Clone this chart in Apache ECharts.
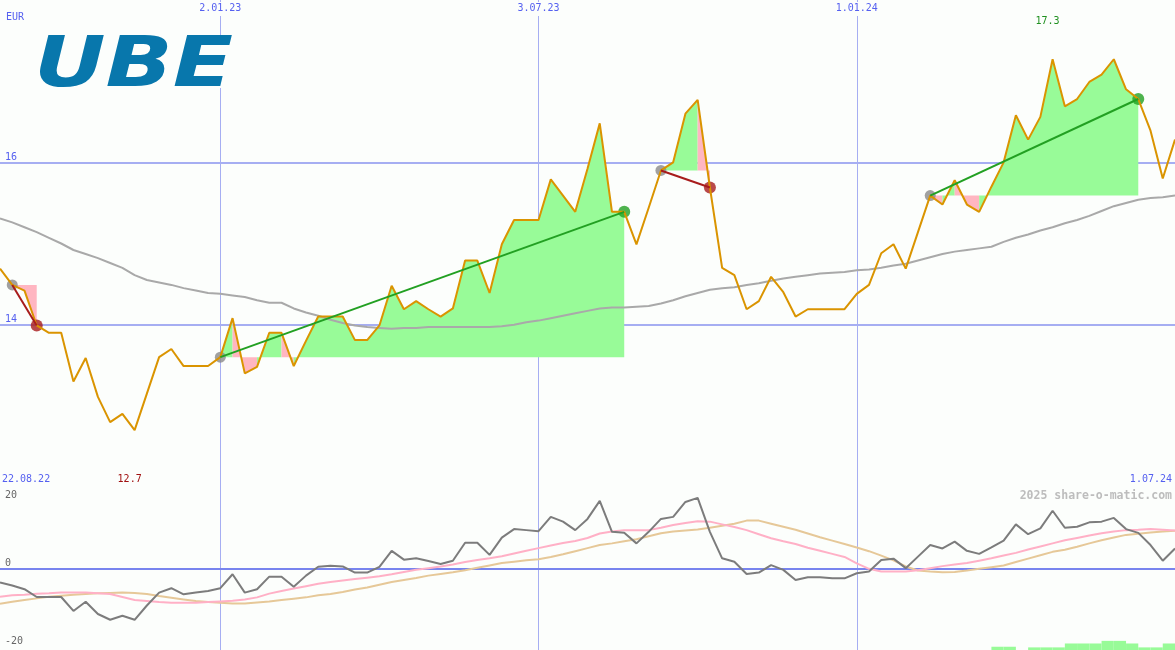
<!DOCTYPE html>
<html><head><meta charset="utf-8">
<script src="https://cdn.jsdelivr.net/npm/echarts@6/dist/echarts.min.js"></script>
<style>html,body{margin:0;padding:0;background:#fcfefc}#c{width:1175px;height:650px}</style>
</head><body><div id="c"></div>
<script>
// ---------------- data ----------------
const weeks = 97;                       // weekly closes, first point 29.08.22
const periodStart = '22.08.22';
const currency = 'EUR';
const ticker = 'UBE';
const credit = '2025 share-o-matic.com';
const dateLabelIdx = [18, 44, 70];      // 2.01.23, 3.07.23, 1.01.24
const mainTicks = [14, 16];
const lowerTicks = [20, 0];
const lowerTicksBottom = [-20];

const price = [14.69,14.49,14.42,13.99,13.90,13.90,13.30,13.59,13.11,12.80,
  12.90,12.70,13.15,13.60,13.70,13.49,13.49,13.49,13.60,14.08,
  13.40,13.48,13.90,13.90,13.49,13.80,14.10,14.10,14.10,13.81,
  13.81,13.99,14.48,14.19,14.29,14.19,14.10,14.20,14.79,14.79,
  14.39,14.99,15.29,15.29,15.29,15.79,15.59,15.39,15.92,16.48,
  15.39,15.39,14.99,15.44,15.90,16.00,16.60,16.77,15.69,14.70,
  14.61,14.19,14.29,14.59,14.40,14.10,14.19,14.19,14.19,14.19,
  14.38,14.49,14.88,14.99,14.69,15.14,15.59,15.48,15.78,15.48,
  15.39,15.70,16.00,16.58,16.28,16.56,17.27,16.69,16.78,16.99,
  17.08,17.27,16.90,16.78,16.39,15.80,16.28];

const movingAvg = [15.31,15.26,15.20,15.14,15.07,15.00,14.92,14.87,14.82,14.76,
  14.70,14.61,14.55,14.52,14.49,14.45,14.42,14.39,14.38,14.36,
  14.34,14.30,14.27,14.27,14.20,14.15,14.11,14.06,14.02,13.99,
  13.97,13.96,13.95,13.96,13.96,13.97,13.97,13.97,13.97,13.97,
  13.97,13.98,14.00,14.03,14.05,14.08,14.11,14.14,14.17,14.20,
  14.21,14.21,14.22,14.23,14.26,14.30,14.35,14.39,14.43,14.45,
  14.46,14.49,14.51,14.54,14.57,14.59,14.61,14.63,14.64,14.65,
  14.67,14.68,14.70,14.73,14.75,14.79,14.83,14.87,14.90,14.92,
  14.94,14.96,15.02,15.07,15.11,15.16,15.20,15.25,15.29,15.34,
  15.40,15.46,15.50,15.54,15.56,15.57,15.59];

const momentum = [-4.1,-5.0,-6.1,-8.4,-8.4,-8.4,-12.5,-9.8,-13.4,-15.1,
  -13.9,-15.1,-10.9,-7.1,-5.8,-7.6,-7.1,-6.6,-5.8,-1.7,
  -7.1,-6.1,-2.4,-2.4,-5.4,-2.1,0.5,0.8,0.6,-1.2,
  -1.2,0.5,5.2,2.6,3.0,2.2,1.3,2.3,7.6,7.6,
  4.0,9.1,11.6,11.3,11.0,15.2,13.8,11.3,14.6,19.9,
  10.8,10.5,7.4,10.8,14.6,15.2,19.6,20.8,10.8,3.0,
  2.0,-1.6,-1.2,1.0,-0.4,-3.4,-2.6,-2.6,-2.9,-2.9,
  -1.4,-0.9,2.5,2.9,0.1,3.5,6.9,5.9,7.9,5.2,
  4.3,6.2,8.2,13.0,10.1,11.8,17.0,12.0,12.3,13.6,
  13.8,14.9,11.6,10.5,6.9,2.3,5.9];

const signalFast = [-8.3,-7.9,-7.7,-7.4,-7.3,-7.1,-7.1,-7.1,-7.3,-7.5,
  -8.4,-9.3,-9.6,-9.9,-10.1,-10.1,-10.1,-9.9,-9.7,-9.5,
  -9.1,-8.5,-7.4,-6.6,-5.9,-5.2,-4.5,-4.0,-3.5,-3.1,
  -2.7,-2.3,-1.7,-1.0,-0.4,0.1,0.6,1.2,1.9,2.5,
  3.0,3.6,4.4,5.2,6.0,6.8,7.5,8.1,9.0,10.3,
  10.9,11.3,11.3,11.3,12.0,12.8,13.4,13.9,13.8,13.0,
  12.2,11.3,10.1,8.9,8.0,7.2,6.1,5.2,4.3,3.4,
  1.5,-0.1,-0.9,-0.9,-0.9,-0.5,0.1,0.7,1.2,1.6,
  2.3,3.0,3.8,4.6,5.6,6.5,7.4,8.3,9.0,9.7,
  10.4,10.9,11.3,11.4,11.6,11.4,11.2];

const signalSlow = [-10.4,-9.8,-9.3,-8.8,-8.3,-8.0,-7.7,-7.5,-7.3,-7.2,
  -7.1,-7.2,-7.5,-8.1,-8.6,-9.1,-9.6,-9.9,-10.1,-10.3,
  -10.3,-10.0,-9.7,-9.3,-8.9,-8.5,-7.9,-7.5,-6.9,-6.2,
  -5.6,-4.8,-4.0,-3.4,-2.8,-2.1,-1.6,-1.1,-0.5,0.2,
  0.9,1.6,2.0,2.4,2.7,3.4,4.2,5.1,6.0,6.9,
  7.4,8.0,8.6,9.5,10.4,10.9,11.2,11.5,12.0,12.6,
  13.2,14.1,14.1,13.2,12.3,11.4,10.3,9.2,8.2,7.2,
  6.2,5.1,3.8,2.4,0.6,-0.6,-0.9,-1.1,-1.0,-0.6,
  -0.1,0.4,0.9,1.9,2.9,3.9,4.9,5.5,6.4,7.4,
  8.3,9.1,9.9,10.2,10.6,10.9,11.1];

const tradeEntry = [1, 18, 54, 76];
const tradeExit  = [3, 51, 58, 93];

const barIdx = [81,82,84,85,86,87,88,89,90,91,92,93,94,95];
const barVal = [1,1,0.8,0.8,0.8,2,2,2,2.8,2.8,2,0.8,0.8,2];

// ---------------- derived ----------------
const dates = [];
for (let i = 0; i < weeks; i++) {
  const d = new Date(Date.UTC(2022, 7, 29 + 7 * i));
  dates.push(d.getUTCDate() + '.' + String(d.getUTCMonth() + 1).padStart(2, '0') + '.' + String(d.getUTCFullYear() % 100).padStart(2, '0'));
}
const periodEnd = dates[dates.length - 1];

const BG = '#fcfefc';
const BLUE_TXT = '#5560f0';
const GRID_LINE = '#a6aef2';
const SEP = '#7884ee';
const GREEN_FILL = '#98fb98';
const PINK_FILL = '#ffb6c1';
const PRICE_C = '#da9400';
const WIN_C = '#22a022';
const LOSS_C = '#a81c1c';
const MONO = '"DejaVu Sans Mono", monospace';
const NONE = 'rgba(0,0,0,0)';

// runs of weeks inside a trade that share a colour: [start, end, base, up]
const fillRuns = [];
tradeEntry.forEach((e, t) => {
  const base = price[e];
  let s = e, cur = price[e + 1] > base ? 1 : 0;
  for (let k = e + 1; k < tradeExit[t]; k++) {
    const up = price[k + 1] > base ? 1 : 0;
    if (up !== cur) { fillRuns.push([s, k, base, cur]); s = k; cur = up; }
  }
  fillRuns.push([s, tradeExit[t], base, cur]);
});

const idxMin = price.indexOf(Math.min(...price));
const idxMax = price.indexOf(Math.max(...price));

const tradeSeries = tradeEntry.map((e, t) => {
  const x = tradeExit[t];
  const win = price[x] > price[e];
  return {type: 'line', xAxisIndex: 0, yAxisIndex: 0, z: 6, symbol: 'none', silent: true,
    data: [[e, price[e]], [x, price[x]]], lineStyle: {color: win ? WIN_C : LOSS_C, width: 2}};
});
const entryPts = tradeEntry.map(e => [e, price[e]]);
const exitPts = tradeExit.map((x, t) => ({value: [x, price[x]], itemStyle: {color: price[x] > price[tradeEntry[t]] ? WIN_C : LOSS_C}}));

const lowerSplitColors = [];
for (let v = -24; v <= 24; v += 4) lowerSplitColors.push(v === 0 ? GRID_LINE : NONE);

const isDateIdx = (i) => dateLabelIdx.includes(i);

const chart = echarts.init(document.getElementById('c'), null, {renderer: 'canvas'});
chart.setOption({
  backgroundColor: BG,
  animation: false,
  grid: [
    {left: 0, right: 0, top: 0, height: 487},
    {left: 0, right: 0, top: 487, height: 163}
  ],
  xAxis: [
    {type: 'category', gridIndex: 0, data: dates, boundaryGap: false, position: 'top',
      axisLine: {show: false}, axisTick: {show: false},
      axisLabel: {inside: true, interval: isDateIdx, color: BLUE_TXT, fontFamily: MONO, fontSize: 10,
        margin: 2, backgroundColor: BG, padding: [1, 1, 3, 1]},
      splitLine: {show: true, interval: isDateIdx, lineStyle: {color: GRID_LINE, width: 1}}},
    {type: 'category', gridIndex: 1, data: dates, boundaryGap: false, position: 'top',
      axisLine: {show: true, lineStyle: {color: SEP, width: 2}}, axisTick: {show: false},
      axisLabel: {show: false},
      splitLine: {show: true, interval: isDateIdx, lineStyle: {color: GRID_LINE, width: 1}}}
  ],
  yAxis: [
    {type: 'value', gridIndex: 0, min: 12, max: 18, interval: 2,
      axisLine: {show: false}, axisTick: {show: false},
      axisLabel: {inside: true, margin: 5, verticalAlign: 'bottom', color: BLUE_TXT, fontFamily: MONO, fontSize: 10,
        formatter: v => mainTicks.includes(v) ? String(v) : ''},
      splitLine: {show: true, lineStyle: {color: [NONE, GRID_LINE, GRID_LINE, NONE], width: 2}}},
    {type: 'value', gridIndex: 1, min: -24, max: 24, interval: 4,
      axisLine: {show: false}, axisTick: {show: false},
      axisLabel: {inside: true, margin: 5, verticalAlign: 'bottom', color: '#666666', fontFamily: MONO, fontSize: 10,
        formatter: v => lowerTicks.includes(v) ? String(v) : ''},
      splitLine: {show: true, lineStyle: {color: lowerSplitColors, width: 2}}},
    {type: 'value', gridIndex: 1, min: -24, max: 24, interval: 4, position: 'left',
      axisLine: {show: false}, axisTick: {show: false}, splitLine: {show: false},
      axisLabel: {inside: true, margin: 5, verticalAlign: 'top', color: '#666666', fontFamily: MONO, fontSize: 10,
        formatter: v => lowerTicksBottom.includes(v) ? String(v) : ''}},
    {type: 'value', gridIndex: 1, min: 0, max: 50, show: false}
  ],
  series: [
    {type: 'custom', xAxisIndex: 0, yAxisIndex: 0, z: 1, silent: true, data: fillRuns,
      renderItem: (params, api) => {
        const s = api.value(0), e = api.value(1), b = api.value(2), up = api.value(3);
        const pts = [api.coord([s, b])];
        for (let k = s; k <= e; k++) pts.push(api.coord([k, price[k]]));
        pts.push(api.coord([e, b]));
        return {type: 'polygon', shape: {points: pts}, style: {fill: up ? GREEN_FILL : PINK_FILL}};
      }},
    {type: 'line', xAxisIndex: 0, yAxisIndex: 0, z: 2, symbol: 'none', data: movingAvg,
      lineStyle: {color: '#a9a9a9', width: 2}},
    {type: 'scatter', xAxisIndex: 0, yAxisIndex: 0, z: 3, symbolSize: 11, data: entryPts,
      itemStyle: {color: '#8a8a8a'}},
    {type: 'scatter', xAxisIndex: 0, yAxisIndex: 0, z: 3, symbolSize: 12, data: exitPts},
    {type: 'line', xAxisIndex: 0, yAxisIndex: 0, z: 4, symbol: 'none', data: price,
      lineStyle: {color: PRICE_C, width: 2},
      markPoint: {symbol: 'circle', symbolSize: 0, silent: true,
        data: [
          {coord: [idxMin, 12], value: price[idxMin].toFixed(1),
            label: {position: 'top', distance: 3, offset: [-5, 0], color: '#a01010'}},
          {coord: [idxMax, 18], value: price[idxMax].toFixed(1),
            label: {position: 'bottom', distance: 16, offset: [-5, 0], color: '#209020'}}
        ],
        label: {show: true, fontFamily: MONO, fontSize: 10, formatter: p => p.value}}},
    ...tradeSeries,
    {type: 'custom', xAxisIndex: 1, yAxisIndex: 3, z: 1, silent: true,
      data: barIdx.map((k, i) => [k, barVal[i]]),
      renderItem: (params, api) => {
        const a = api.coord([api.value(0), api.value(1)]);
        const b = api.coord([api.value(0) + 1, 0]);
        return {type: 'rect', shape: {x: a[0], y: a[1], width: b[0] - a[0], height: b[1] - a[1]}, style: {fill: GREEN_FILL}};
      }},
    {type: 'line', xAxisIndex: 1, yAxisIndex: 1, z: 2, symbol: 'none', data: signalSlow,
      lineStyle: {color: '#e6c898', width: 2}},
    {type: 'line', xAxisIndex: 1, yAxisIndex: 1, z: 3, symbol: 'none', data: signalFast,
      lineStyle: {color: '#ffb0c6', width: 2}},
    {type: 'line', xAxisIndex: 1, yAxisIndex: 1, z: 4, symbol: 'none', data: momentum,
      lineStyle: {color: '#7c7c7c', width: 2}}
  ],
  graphic: [
    {type: 'rect', z: 1, shape: {x: 34, y: 35, width: 202, height: 53}, style: {fill: BG}},
    {type: 'text', z: 2, x: 34, y: 68, scaleX: 1.26, style: {text: ticker, fontFamily: '"DejaVu Sans"', fontWeight: 'bold',
      fontStyle: 'italic', fontSize: 70, fill: '#0877ac', verticalAlign: 'middle'}},
    {type: 'text', z: 2, x: 6, y: 17, style: {text: currency, fontFamily: MONO, fontSize: 10, fill: BLUE_TXT, verticalAlign: 'middle'}},
    {type: 'text', z: 2, x: 2, y: 479, style: {text: periodStart, fontFamily: MONO, fontSize: 10, fill: BLUE_TXT, verticalAlign: 'middle'}},
    {type: 'text', z: 2, x: 1172, y: 479, style: {text: periodEnd, fontFamily: MONO, fontSize: 10, fill: BLUE_TXT, align: 'right', verticalAlign: 'middle'}},
    {type: 'text', z: 2, x: 1172, y: 496, style: {text: credit, fontFamily: MONO, fontWeight: 'bold', fontSize: 11.5, fill: '#bdbdbd', align: 'right', verticalAlign: 'middle'}}
  ]
});
</script>
</body></html>
